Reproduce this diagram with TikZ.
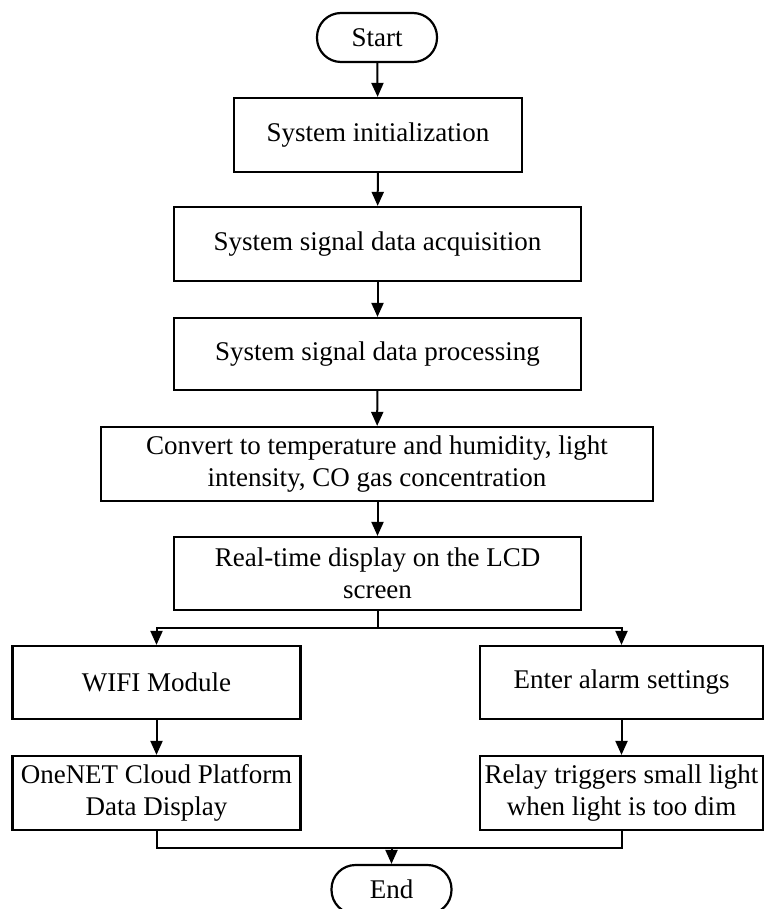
\documentclass[tikz,border=0pt]{standalone}
\usepackage{fontspec}
\setmainfont{Liberation Serif}
\usetikzlibrary{arrows.meta}
\tikzset{
  box/.style={draw, line width=2.2pt, rectangle, inner sep=0pt, align=center,
    font=\fontsize{27}{32}\selectfont},
  term/.style={draw, line width=2.2pt, rectangle, rounded corners=24pt, inner sep=0pt,
    minimum width=120pt, minimum height=49pt, font=\fontsize{27}{32}\selectfont},
  arr/.style={line width=2pt, -{Triangle[length=14pt,width=12pt]}},
  ln/.style={line width=2pt}
}
\begin{document}
\begin{tikzpicture}[x=1pt,y=-1pt]
\useasboundingbox (0,0) rectangle (765,909);
\clip (0,0) rectangle (765,909);
\fill[white] (0,0) rectangle (765,909);
\node[term] (start) at (377,37.5) {Start};
\node[box, minimum width=288pt, minimum height=74pt] (init) at (378,135) {System initialization};
\node[box, minimum width=407pt, minimum height=74pt] (acq) at (377.5,244) {System signal data acquisition};
\node[box, minimum width=407pt, minimum height=72pt] (proc) at (377.5,354) {System signal data processing};
\node[box, minimum width=552pt, minimum height=74pt] (conv) at (377,464) {Convert to temperature and humidity, light\\intensity, CO gas concentration};
\node[box, minimum width=407pt, minimum height=73pt] (rt) at (377.5,573.5) {Real-time display on the LCD\\screen};
\node[box, minimum width=288pt, minimum height=73pt] (wifi) at (156.5,682.5) {WIFI Module};
\node[box, minimum width=283pt, minimum height=73pt] (alarm) at (621.5,682.5) {Enter alarm settings};
\node[box, minimum width=288pt, minimum height=74pt] (onenet) at (156.5,793) {OneNET Cloud Platform\\Data Display};
\node[box, minimum width=283pt, minimum height=74pt] (relay) at (621.5,793) {Relay triggers small light\\when light is too dim};
\node[term] (end) at (391.5,889.5) {End};
\coordinate (br) at (377.5,628);
\coordinate (mg) at (391.5,848);
\draw[arr] (start) -- (init);
\draw[arr] (init) -- (acq);
\draw[arr] (acq) -- (proc);
\draw[arr] (proc) -- (conv);
\draw[arr] (conv.south -| rt.north) -- (rt.north);
\draw[ln] (rt.south) -- (br);
\draw[arr] (br) -| (wifi.north);
\draw[arr] (br) -| (alarm.north);
\draw[arr] (wifi) -- (onenet);
\draw[arr] (alarm) -- (relay);
\draw[ln] (onenet.south) -- (onenet.south |- mg) -- (relay.south |- mg) -- (relay.south);
\draw[arr] (mg) -- (end.north);
\end{tikzpicture}
\end{document}
